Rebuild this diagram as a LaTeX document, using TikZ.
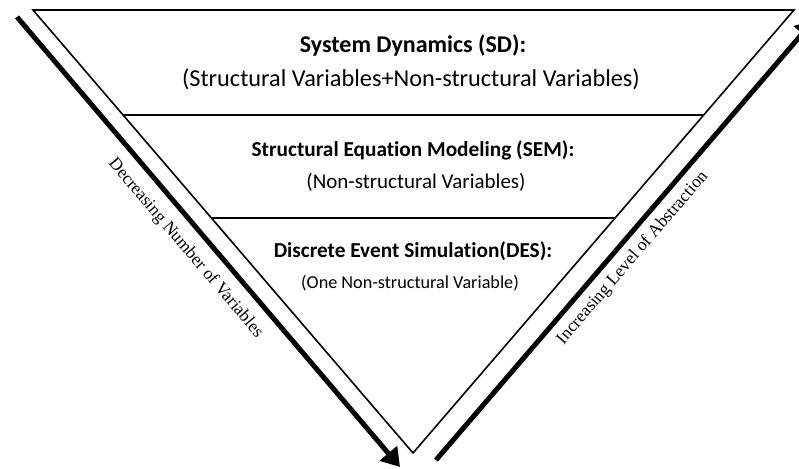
\documentclass[tikz,border=0pt]{standalone}
\usepackage{fontspec}
\setmainfont{Carlito}[Ligatures=NoCommon]
\newfontfamily\sidefont{Liberation Serif}
\usetikzlibrary{arrows.meta,calc}
\begin{document}
\begin{tikzpicture}[x=1pt,y=-1pt,
  edge/.style={line width=1.6pt, line join=miter},
  bigarrow/.style={line width=5pt, -{Triangle[length=18pt,width=22pt]}},
  bigtitle/.style={anchor=base, inner sep=0, font=\fontsize{24}{24}\selectfont\bfseries},
  bigsub/.style={anchor=base, inner sep=0, font=\fontsize{24.3}{24}\selectfont},
  midtitle/.style={anchor=base, inner sep=0, font=\fontsize{21.3}{21}\selectfont\bfseries},
  midsub/.style={anchor=base, inner sep=0, font=\fontsize{21}{21}\selectfont},
  smallsub/.style={anchor=base, inner sep=0, font=\fontsize{18.2}{18}\selectfont},
  sidelab/.style={inner sep=0, font=\sidefont\fontsize{17.5}{17.5}\selectfont}
]
\useasboundingbox (0,0) rectangle (799,468);
\clip (0,0) rectangle (799,468);
% inverted triangle
\coordinate (TL) at (33,10);
\coordinate (TR) at (794,10);
\coordinate (B) at (413,453);
\draw[edge] (TL) -- (TR) -- (B) -- cycle;
\coordinate (L1a) at ($(TL)!0.237!(B)$);
\coordinate (L1b) at ($(TR)!0.237!(B)$);
\coordinate (L2a) at ($(TL)!0.4695!(B)$);
\coordinate (L2b) at ($(TR)!0.4695!(B)$);
\draw[edge] (L1a) -- (L1b);
\draw[edge] (L2a) -- (L2b);
% texts
\node[bigtitle] (sdt) at (413,53) {System Dynamics (SD):};
\node[bigsub] (sds) at (411,87) {(Structural Variables+Non-structural Variables)};
\node[midtitle] (semt) at (413,156) {Structural Equation Modeling (SEM):};
\node[midsub] (sems) at (416,188) {(Non-structural Variables)};
\node[midtitle] (dest) at (413,257) {Discrete Event Simulation(DES):};
\node[smallsub] (dess) at (410,288) {(One Non-structural Variable)};
% side arrows
\coordinate (A1) at (17,17);
\coordinate (A2) at (400,467);
\draw[bigarrow] (A1) -- node[pos=0.483, sloped, below=11pt, sidelab] (declab) {Decreasing Number of Variables} (A2);
\coordinate (C1) at (436,460);
\coordinate (C2) at (814,20);
\draw[bigarrow] (C1) -- node[pos=0.485, sloped, below=7pt, sidelab] (inclab) {Increasing Level of Abstraction} (C2);
\end{tikzpicture}
\end{document}
